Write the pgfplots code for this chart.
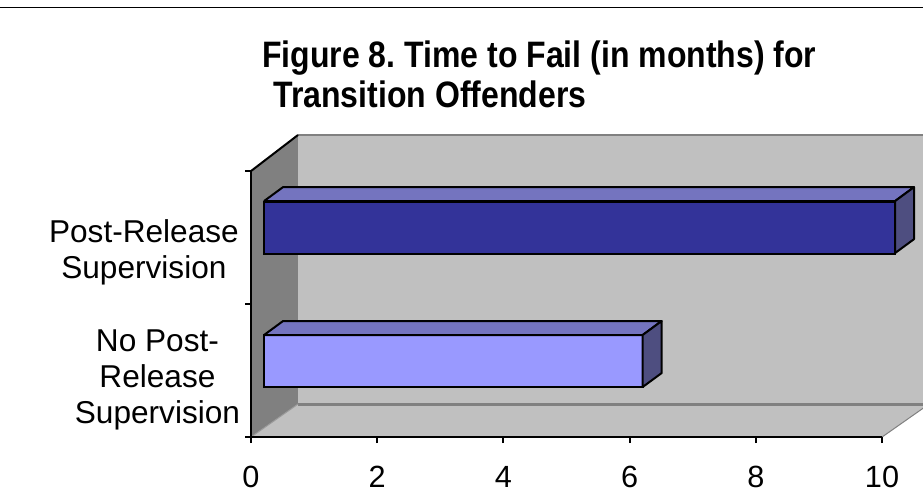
\documentclass[border=0pt]{standalone}
\usepackage{fontspec}
\setmainfont{Liberation Sans}
\usepackage{graphicx}
\usepackage{pgfplots}
\pgfplotsset{compat=1.18}
\usepackage{pgfplotstable}
\definecolor{walldark}{HTML}{808080}
\definecolor{walllight}{HTML}{C0C0C0}
\definecolor{barone}{HTML}{333399}
\definecolor{bartwo}{HTML}{9999FF}
\definecolor{bartop}{HTML}{7474BF}
\definecolor{barside}{HTML}{4E4E80}
\frenchspacing
\begin{document}
\begin{tikzpicture}
\begin{axis}[
  x=47.325pt, y=99.75pt,
  xmin=0, xmax=10, ymin=0, ymax=2,
  axis x line*=bottom, axis y line*=left,
  axis line style={line width=1.5pt, -, black},
  xtick={0,2,...,10}, ytick={0,1,2}, yticklabels={},
  tick align=outside, major tick length=4.5pt,
  tick style={line width=1.5pt, black},
  xticklabel style={anchor=base, yshift=-33pt, font=\fontsize{23}{27}\selectfont},
  /pgf/number format/assume math mode=true,
  clip=false, axis on top,
]
% side wall
\fill[walldark] (axis cs:0,0) -- (axis cs:0.745,0.248) -- (axis cs:0.745,2.271) -- (axis cs:0,2) -- cycle;
% back wall
\fill[walllight] (axis cs:0.745,0.248) rectangle (axis cs:11,2.271);
% floor
\fill[walllight] (axis cs:0,0) -- (axis cs:0.745,0.248) -- (axis cs:10.745,0.248) -- (axis cs:10,0) -- cycle;
\draw[walldark, line width=2.25pt] (axis cs:0.745,0.248) -- (axis cs:11,0.248);
\draw[walldark, line width=2pt] (axis cs:0.745,2.271) -- (axis cs:11,2.271);
\draw[walldark, line width=0.75pt] (axis cs:10,0) -- (axis cs:10.745,0.248);
\draw[walldark!60!walllight, line width=0.75pt] (axis cs:0,0) -- (axis cs:0.745,0.248);
\draw[black, line width=1.5pt] (axis cs:0,2) -- (axis cs:0.745,2.271);
% bars: front faces from the data
\addplot[xbar, bar width=39pt, bar shift=7.5pt, xshift=9.75pt, fill=barone, draw=black, line width=1.5pt] coordinates {(10,1.5)};
\addplot[xbar, bar width=39pt, bar shift=7.5pt, xshift=9.75pt, fill=bartwo, draw=black, line width=1.5pt] coordinates {(6,0.5)};
% top and side faces
\addplot[fill=bartop, draw=black, line width=1.5pt, line join=round] coordinates {(0.206,1.774) (10.206,1.774) (10.507,1.879) (0.507,1.879) (0.206,1.774)};
\addplot[fill=barside, draw=black, line width=1.5pt, line join=round] coordinates {(10.206,1.383) (10.206,1.774) (10.507,1.879) (10.507,1.488) (10.206,1.383)};
\addplot[fill=bartop, draw=black, line width=1.5pt, line join=round] coordinates {(0.206,0.767) (6.206,0.767) (6.507,0.872) (0.507,0.872) (0.206,0.767)};
\addplot[fill=barside, draw=black, line width=1.5pt, line join=round] coordinates {(6.206,0.376) (6.206,0.767) (6.507,0.872) (6.507,0.481) (6.206,0.376)};
% category labels
\node[anchor=north east, align=center, inner sep=0pt, font=\fontsize{23.7}{27}\selectfont] at (axis cs:-0.19,1.635) {Post-Release\\Supervision};
\node[anchor=north east, align=center, inner sep=0pt, font=\fontsize{23.7}{27}\selectfont] at (axis cs:-0.17,0.805) {No Post-\\Release\\Supervision};
% title
\node[anchor=base west, inner sep=0pt, font=\fontsize{24}{29}\selectfont\bfseries] at (axis cs:0.174,2.782) {\scalebox{1}[1.15]{Figure 8. Time to Fail (in months) for}};
\node[anchor=base west, inner sep=0pt, font=\fontsize{24}{29}\selectfont\bfseries] at (axis cs:0.349,2.474) {\scalebox{1}[1.15]{Transition Offenders}};
% top rule
\draw[black, line width=0.75pt] (axis cs:-3.978,3.233) -- (axis cs:10.649,3.233);
\coordinate (bbl) at (axis cs:-3.978,-0.466);
\coordinate (btr) at (axis cs:10.649,3.286);
\end{axis}
\pgfresetboundingbox
\path (bbl) rectangle (btr);
\end{tikzpicture}
\end{document}
